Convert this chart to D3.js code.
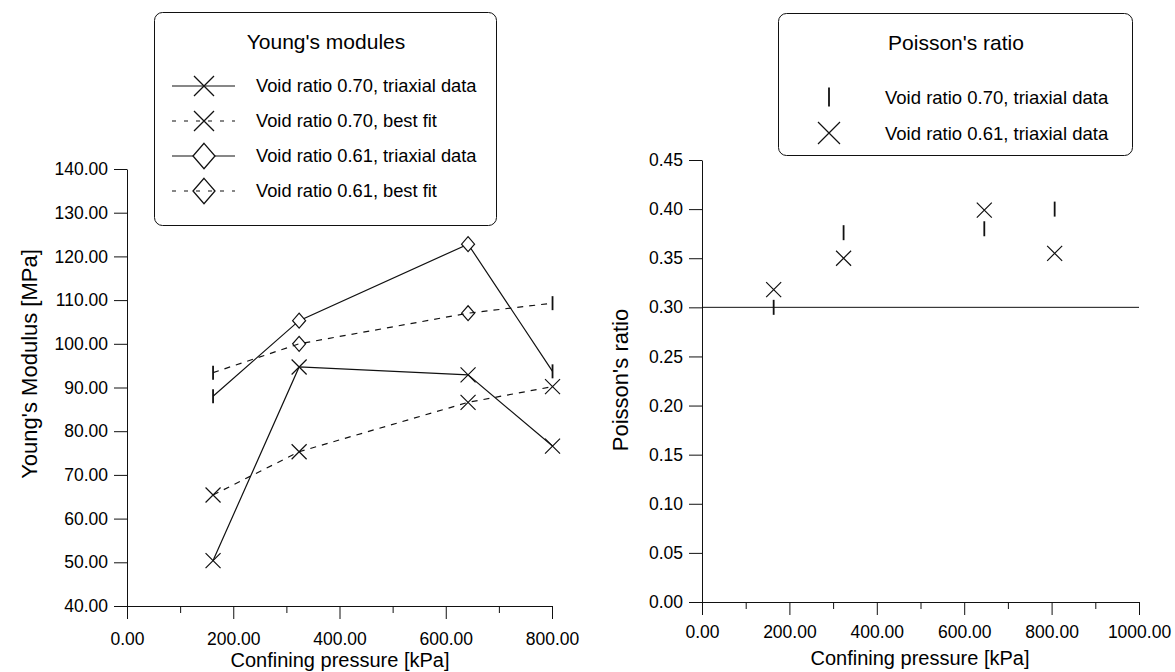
<!DOCTYPE html>
<html>
<head>
<meta charset="utf-8">
<script src="https://cdn.jsdelivr.net/npm/d3@7"></script>
<style>
body { margin: 0; background: #fff; }
svg text { font-family: "Liberation Sans", Arial, sans-serif; fill: #000; }
</style>
</head>
<body>
<svg id="chart" width="1175" height="672"></svg>
<script>
// values
var pressure = [162, 324, 642, 801];            // kPa, Young's modulus tests
var youngTriax070 = [50.4, 94.7, 92.9, 76.6];   // MPa
var youngFit070 = [65.4, 75.3, 86.6, 90.2];
var youngTriax061 = [88.0, 105.3, 122.8, 93.7];
var youngFit061 = [93.4, 100.0, 107.0, 109.3];

var poissonPressure = [164, 324, 646, 807];     // kPa, Poisson's ratio tests
var poisson070 = [0.300, 0.376, 0.380, 0.400];
var poisson061 = [0.318, 0.350, 0.399, 0.355];
var poissonRef = 0.30;

var youngTicks = [40, 50, 60, 70, 80, 90, 100, 110, 120, 130, 140];
var youngXTicks = [0, 200, 400, 600, 800];
var youngXMinor = [100, 300, 500, 700];
var poissonTicks = [0, 0.05, 0.10, 0.15, 0.20, 0.25, 0.30, 0.35, 0.40, 0.45];
var poissonXTicks = [0, 200, 400, 600, 800, 1000];
var poissonXMinor = [100, 300, 500, 700, 900];

var youngSeries = [
  {name: "Void ratio 0.70, triaxial data", values: youngTriax070, marker: "cross", dashed: false},
  {name: "Void ratio 0.70, best fit", values: youngFit070, marker: "cross", dashed: true},
  {name: "Void ratio 0.61, triaxial data", values: youngTriax061, marker: "diamond", dashed: false},
  {name: "Void ratio 0.61, best fit", values: youngFit061, marker: "diamond", dashed: true}
];
var poissonSeries = [
  {name: "Void ratio 0.70, triaxial data", values: poisson070, marker: "bar"},
  {name: "Void ratio 0.61, triaxial data", values: poisson061, marker: "cross"}
];

var svg = d3.select("#chart");
svg.append("rect").attr("width", 1175).attr("height", 672).attr("fill", "#fff");

var fmt = d3.format(".2f");
var ink = "#111";

function markerPath(type, cx, cy, s) {
  if (type == "cross")
    return "M" + (cx - s) + "," + (cy - s) + "L" + (cx + s) + "," + (cy + s) +
           "M" + (cx - s) + "," + (cy + s) + "L" + (cx + s) + "," + (cy - s);
  if (type == "diamond")
    return "M" + cx + "," + (cy - s * 1.15) + "L" + (cx + s) + "," + cy +
           "L" + cx + "," + (cy + s * 1.15) + "L" + (cx - s) + "," + cy + "Z";
  return "M" + cx + "," + (cy - s) + "L" + cx + "," + (cy + s);
}

function styleAxis(a, size) {
  a.selectAll("path, line").attr("stroke", ink).attr("stroke-width", 1);
  a.selectAll("text").attr("font-size", size).attr("fill", "#000")
   .attr("font-family", "'Liberation Sans', Arial, sans-serif");
}

// ---------- left: Young's modulus ----------
var xL = d3.scaleLinear().domain([0, 800]).range([127, 552]);
var yL = d3.scaleLinear().domain([40, 140]).range([606, 169]);

var ax = svg.append("g").attr("transform", "translate(127,0)")
  .call(d3.axisLeft(yL).tickValues(youngTicks).tickSize(13).tickSizeOuter(0).tickPadding(6).tickFormat(fmt));
styleAxis(ax, 17.5);
ax = svg.append("g").attr("transform", "translate(0,606)")
  .call(d3.axisBottom(xL).tickValues(youngXTicks).tickSize(13).tickSizeOuter(0).tickPadding(14).tickFormat(fmt));
styleAxis(ax, 17.5);
ax = svg.append("g").attr("transform", "translate(0,606)")
  .call(d3.axisBottom(xL).tickValues(youngXMinor).tickSize(7).tickFormat(""));
ax.select(".domain").remove();
styleAxis(ax, 17.5);

svg.append("text").attr("x", 340).attr("y", 667).attr("text-anchor", "middle")
  .attr("font-size", 20).text("Confining pressure [kPa]");
svg.append("text").attr("transform", "translate(37,364) rotate(-90)").attr("text-anchor", "middle")
  .attr("font-size", 22).text("Young's Modulus [MPa]");

var line = d3.line();
youngSeries.forEach(function(s) {
  var pts = s.values.map(function(v, i) { return [xL(pressure[i]), yL(v)]; });
  svg.append("path").attr("d", line(pts)).attr("fill", "none").attr("stroke", ink)
    .attr("stroke-width", 1.2).attr("stroke-dasharray", s.dashed ? "6,6" : null);
  pts.forEach(function(p, i) {
    var type = s.marker;
    // the diamonds at both ends are drawn as short bars in the original
    if (type == "diamond" && (i == 0 || i == pts.length - 1)) type = "bar";
    svg.append("path").attr("d", markerPath(type, p[0], p[1], type == "cross" ? 7.5 : (type == "bar" ? 7 : 6.5)))
      .attr("fill", type == "diamond" && !s.dashed ? "#fff" : "none")
      .attr("stroke", ink).attr("stroke-width", type == "bar" ? 1.8 : 1.2);
  });
});

// legend
var lg = svg.append("g");
lg.append("rect").attr("x", 154.5).attr("y", 12.5).attr("width", 342).attr("height", 213).attr("rx", 8)
  .attr("fill", "#fff").attr("stroke", ink).attr("stroke-width", 1);
lg.append("text").attr("x", 326).attr("y", 49).attr("text-anchor", "middle").attr("font-size", 21).text("Young's modules");
youngSeries.forEach(function(s, i) {
  var ry = 86 + i * 35;
  lg.append("line").attr("x1", 172).attr("x2", 235).attr("y1", ry).attr("y2", ry)
    .attr("stroke", ink).attr("stroke-width", 1.2).attr("stroke-dasharray", s.dashed ? "4,8" : null);
  lg.append("path").attr("d", markerPath(s.marker, 204, ry, s.marker == "cross" ? 10 : 11))
    .attr("fill", s.marker == "diamond" && !s.dashed ? "#fff" : "none")
    .attr("stroke", ink).attr("stroke-width", 1.3);
  lg.append("text").attr("x", 256).attr("y", ry + 6).attr("font-size", 18.3).text(s.name);
});

// ---------- right: Poisson's ratio ----------
var xR = d3.scaleLinear().domain([0, 1000]).range([702, 1139]);
var yR = d3.scaleLinear().domain([0, 0.45]).range([602, 160]);

ax = svg.append("g").attr("transform", "translate(702,0)")
  .call(d3.axisLeft(yR).tickValues(poissonTicks).tickSize(13).tickSizeOuter(0).tickPadding(6).tickFormat(fmt));
styleAxis(ax, 17.5);
ax = svg.append("g").attr("transform", "translate(0,602)")
  .call(d3.axisBottom(xR).tickValues(poissonXTicks).tickSize(13).tickSizeOuter(0).tickPadding(11).tickFormat(fmt));
styleAxis(ax, 17.5);
ax = svg.append("g").attr("transform", "translate(0,602)")
  .call(d3.axisBottom(xR).tickValues(poissonXMinor).tickSize(7).tickFormat(""));
ax.select(".domain").remove();
styleAxis(ax, 17.5);

svg.append("line").attr("x1", xR(0)).attr("x2", xR(1000)).attr("y1", yR(poissonRef)).attr("y2", yR(poissonRef))
  .attr("stroke", ink).attr("stroke-width", 1);

svg.append("text").attr("x", 920).attr("y", 665).attr("text-anchor", "middle")
  .attr("font-size", 20).text("Confining pressure [kPa]");
svg.append("text").attr("transform", "translate(628,380) rotate(-90)").attr("text-anchor", "middle")
  .attr("font-size", 22).text("Poisson's ratio");

poissonSeries.forEach(function(s) {
  s.values.forEach(function(v, i) {
    svg.append("path").attr("d", markerPath(s.marker, xR(poissonPressure[i]), yR(v), 7.5))
      .attr("fill", "none").attr("stroke", ink).attr("stroke-width", s.marker == "bar" ? 1.8 : 1.2);
  });
});

var rg = svg.append("g");
rg.append("rect").attr("x", 778.5).attr("y", 13.5).attr("width", 354).attr("height", 142).attr("rx", 8)
  .attr("fill", "#fff").attr("stroke", ink).attr("stroke-width", 1);
rg.append("text").attr("x", 956).attr("y", 50).attr("text-anchor", "middle").attr("font-size", 21).text("Poisson's ratio");
poissonSeries.forEach(function(s, i) {
  var ry = 97 + i * 36;
  rg.append("path").attr("d", markerPath(s.marker, 829, ry, s.marker == "bar" ? 9.5 : 11))
    .attr("fill", "none").attr("stroke", ink).attr("stroke-width", s.marker == "bar" ? 1.8 : 1.2);
  rg.append("text").attr("x", 885).attr("y", ry + 7).attr("font-size", 18.5).text(s.name);
});
</script>
</body>
</html>
